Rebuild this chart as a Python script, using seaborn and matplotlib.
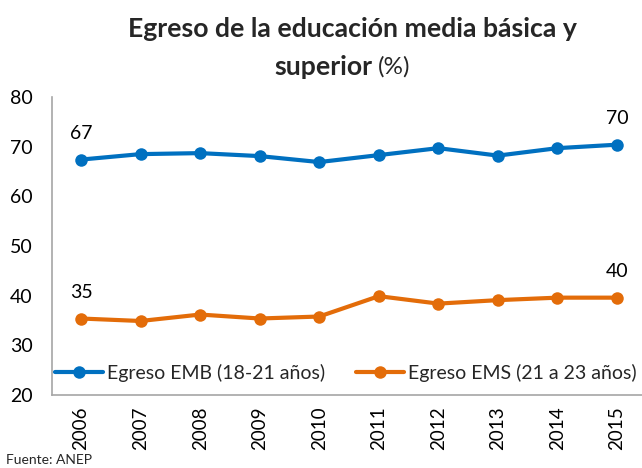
import matplotlib
matplotlib.use("Agg")
import matplotlib.pyplot as plt
import seaborn as sns
import pandas as pd
from matplotlib.lines import Line2D

years = ["2006", "2007", "2008", "2009", "2010", "2011", "2012", "2013", "2014", "2015"]
emb = [67.4, 68.5, 68.7, 68.1, 66.9, 68.3, 69.7, 68.2, 69.7, 70.4]
ems = [35.4, 34.9, 36.2, 35.4, 35.8, 39.9, 38.4, 39.1, 39.6, 39.6]
series_names = ["Egreso EMB (18-21 años)", "Egreso EMS (21 a 23 años)"]
colors = ["#0070C0", "#E36C09"]
yticks = [20, 30, 40, 50, 60, 70, 80]

sns.set_theme(style="white")
plt.rcParams["font.family"] = ["Lato", "DejaVu Sans"]

df = pd.DataFrame({
    "x": list(range(len(years))) * 2,
    "value": emb + ems,
    "serie": [series_names[0]] * len(years) + [series_names[1]] * len(years),
})

fig = plt.figure(figsize=(6.42, 4.68), dpi=100)
ax = fig.add_axes([52 / 642, 73 / 468, 590 / 642, 298 / 468])

sns.lineplot(data=df, x="x", y="value", hue="serie", palette=colors,
             marker="o", markersize=9, linewidth=3, markeredgewidth=0,
             ax=ax, legend=False)

ax.set_xlim(-0.487, 9.42)
ax.set_ylim(20, 80)
ax.set_yticks(yticks)
ax.set_yticklabels([str(t) for t in yticks], fontsize=14)
ax.set_xticks(range(len(years)))
ax.set_xticklabels(years, rotation=90, fontsize=13.5)
ax.tick_params(axis="y", length=0, pad=14, colors="black")
ax.tick_params(axis="x", length=0, pad=8, colors="black")
ax.set_xlabel("")
ax.set_ylabel("")
for s in ["top", "right"]:
    ax.spines[s].set_visible(False)
for s in ["left", "bottom"]:
    ax.spines[s].set_color("#A6A6A6")
    ax.spines[s].set_linewidth(1.2)

# data labels at first and last points
for vals in (emb, ems):
    for i in (0, len(years) - 1):
        ax.annotate(f"{vals[i]:.0f}", (i, vals[i]), xytext=(0, 19),
                    textcoords="offset points", ha="center", va="center",
                    fontsize=14, color="black")

handles = [Line2D([0], [0], color=c, lw=3, marker="o", markersize=9,
                  markeredgewidth=0) for c in colors]
ax.legend(handles, series_names, loc="center", ncol=2, frameon=False,
          fontsize=14, bbox_to_anchor=(0.498, 0.074), handlelength=2.5,
          handletextpad=0.2, columnspacing=1.55, borderpad=0.2)

fig.text(352 / 642, 1 - 29 / 468, "Egreso de la educación media básica y",
         ha="center", va="center", fontsize=19.2, fontweight="bold")
fig.text(372 / 642, 1 - 67 / 468, "superior", ha="right", va="center",
         fontsize=19.2, fontweight="bold")
fig.text(378 / 642, 1 - 67 / 468, "(%)", ha="left", va="center",
         fontsize=17.5)
fig.text(6 / 642, 2 / 468, "Fuente: ANEP", ha="left", va="bottom",
         fontsize=10)

fig.savefig("out.png", dpi=100)
